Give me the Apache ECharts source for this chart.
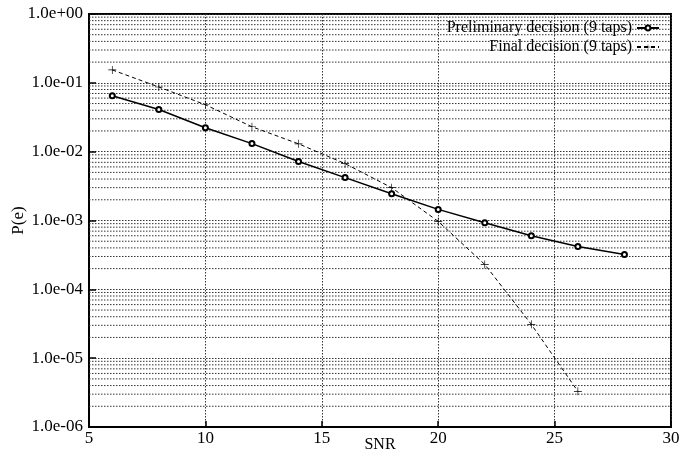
<!DOCTYPE html>
<html><head><meta charset="utf-8">
<script src="https://cdn.jsdelivr.net/npm/echarts@6/dist/echarts.min.js"></script>
<style>html,body{margin:0;padding:0;background:#fff}#c{width:681px;height:457px}</style>
</head><body><div id="c"></div>
<script>
var snrPrelim = [6, 8, 10, 12, 14, 16, 18, 20, 22, 24, 26, 28];
var pePrelim = [0.065, 0.041, 0.0223, 0.0131, 0.0072, 0.0042, 0.00245, 0.00145, 0.00093, 0.0006, 0.00042, 0.00032];
var snrFinal = [6, 8, 10, 12, 14, 16, 18, 20, 22, 24, 26];
var peFinal = [0.154, 0.087, 0.048, 0.023, 0.013, 0.0067, 0.003, 0.00097, 0.00023, 0.000031, 0.0000033];
var seriesNames = ['Preliminary decision (9 taps)', 'Final decision (9 taps)'];
var xRange = [5, 30];
var decades = [-6, -5, -4, -3, -2, -1, 0];
var minorMult = [2, 3, 4, 5, 6, 7, 8, 9];

var gridData = [];
decades.slice(0, -1).forEach(function (d) {
  minorMult.forEach(function (m) {
    var v = m * Math.pow(10, d);
    gridData.push([xRange[0], v], [xRange[1], v], '-');
  });
});
var F = 'Liberation Serif';
function fmt(v) {
  var e = Math.round(Math.log10(v));
  var s = e < 0 ? '-' : '+';
  var a = Math.abs(e);
  return '1.0e' + s + (a < 10 ? '0' : '') + a;
}
var plus = 'path://M4.6,0h0.8v10h-0.8z M0,4.6h10v0.8h-10z';
var gridLine = { color: '#333', type: [1.5, 1.5], width: 1 };
var chart = echarts.init(document.getElementById('c'));
chart.setOption({
  animation: false,
  backgroundColor: '#fff',
  grid: { left: 89, right: 10, top: 14, bottom: 30, show: true, borderColor: '#000', borderWidth: 2,
          containLabel: false, outerBoundsMode: 'none' },
  legend: {
    orient: 'vertical', right: 16, top: 15, align: 'right', itemWidth: 22, itemHeight: 6, itemGap: 3,
    textStyle: { fontFamily: F, fontSize: 16, color: '#000', padding: [0, 0, 0, 0] },
    data: seriesNames
  },
  xAxis: {
    type: 'value', min: xRange[0], max: xRange[1], interval: 5,
    name: 'SNR', nameLocation: 'middle', nameGap: 10, nameMoveOverlap: false,
    nameTextStyle: { fontFamily: F, fontSize: 16, color: '#000' },
    axisLine: { lineStyle: { color: '#000', width: 2 } },
    axisTick: { inside: true, length: 6, lineStyle: { color: '#000', width: 1.5 } },
    axisLabel: { fontFamily: F, fontSize: 17, color: '#000', margin: 3 },
    splitLine: { show: true, lineStyle: gridLine }
  },
  yAxis: {
    type: 'log', logBase: 10, min: 1e-6, max: 1,
    name: 'P(e)', nameLocation: 'middle', nameGap: 62, nameRotate: 90, nameMoveOverlap: false,
    nameTextStyle: { fontFamily: F, fontSize: 17, color: '#000' },
    axisLine: { lineStyle: { color: '#000', width: 2 } },
    axisTick: { inside: true, length: 7, lineStyle: { color: '#000', width: 1.5 } },
    axisLabel: { fontFamily: F, fontSize: 17, color: '#000', margin: 6, formatter: fmt },
    splitLine: { show: true, lineStyle: gridLine }
  },
  series: [
    {
      type: 'line', data: gridData, silent: true, symbol: 'none', connectNulls: false,
      lineStyle: gridLine, z: 1
    },
    {
      name: seriesNames[0], type: 'line',
      data: snrPrelim.map(function (x, i) { return [x, pePrelim[i]]; }),
      symbol: 'emptyCircle', symbolSize: 5,
      lineStyle: { color: '#000', width: 1.5 },
      itemStyle: { color: '#000', borderColor: '#000', borderWidth: 1.2 }, z: 3
    },
    {
      name: seriesNames[1], type: 'line',
      data: snrFinal.map(function (x, i) { return [x, peFinal[i]]; }),
      symbol: plus, symbolSize: 8,
      lineStyle: { color: '#000', width: 1, type: [4, 3] },
      itemStyle: { color: '#000' }, z: 3
    }
  ]
});
</script></body></html>
